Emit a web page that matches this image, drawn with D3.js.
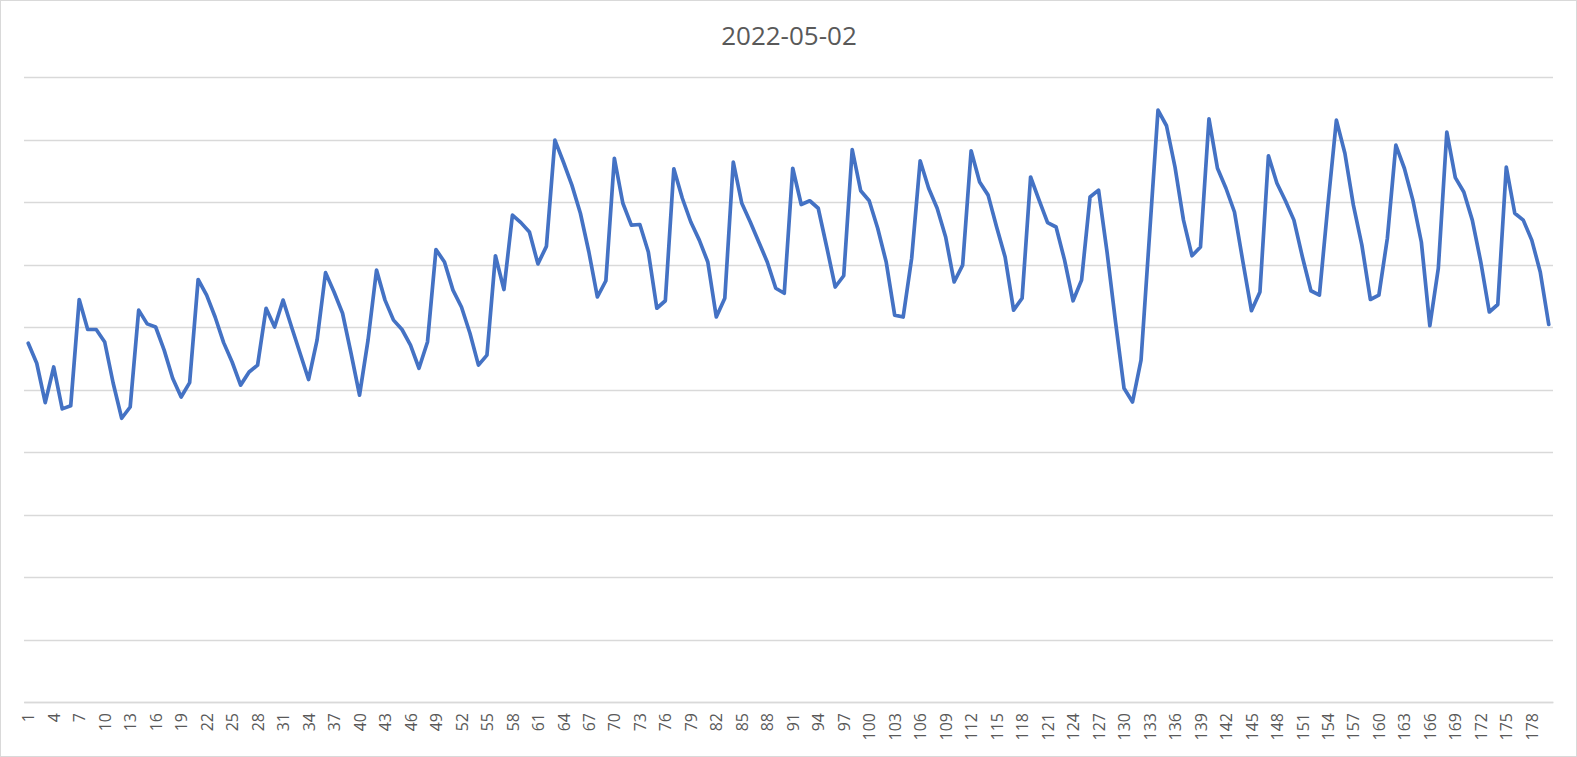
<!DOCTYPE html>
<html>
<head>
<meta charset="utf-8">
<script src="https://cdn.jsdelivr.net/npm/d3@7"></script>
<style>
  html, body { margin: 0; padding: 0; background: #fff; }
  svg { display: block; }
</style>
</head>
<body>
<svg id="chart" width="1577" height="757"></svg>
<script>
const title = "2022-05-02";
const categories = d3.range(1, 181);
const values = [
  57.4, 54.2, 47.9, 53.6, 46.9, 47.4, 64.4, 59.6, 59.6, 57.6,
  51.0, 45.4, 47.2, 62.7, 60.5, 60.0, 56.3, 51.8, 48.8, 51.1,
  67.6, 65.1, 61.6, 57.5, 54.4, 50.7, 52.8, 53.9, 63.0, 60.0,
  64.3, 60.0, 55.8, 51.6, 57.9, 68.7, 65.6, 62.2, 55.8, 49.1,
  57.9, 69.1, 64.3, 61.1, 59.6, 57.1, 53.4, 57.6, 72.4, 70.4,
  65.9, 63.2, 59.0, 53.9, 55.5, 71.4, 66.0, 77.9, 76.7, 75.2,
  70.1, 72.9, 89.9, 86.4, 82.7, 78.2, 72.0, 64.8, 67.4, 87.0,
  79.8, 76.3, 76.4, 72.0, 63.0, 64.2, 85.3, 80.6, 76.8, 73.9,
  70.4, 61.6, 64.6, 86.4, 79.8, 76.8, 73.6, 70.4, 66.2, 65.4,
  85.4, 79.6, 80.2, 79.0, 72.8, 66.4, 68.2, 88.4, 81.8, 80.2,
  75.8, 70.4, 61.9, 61.6, 71.0, 86.6, 82.2, 79.0, 74.4, 67.2,
  69.9, 88.2, 83.2, 81.1, 76.0, 71.2, 62.7, 64.6, 84.0, 80.3,
  76.7, 76.0, 70.7, 64.2, 67.5, 80.8, 81.9, 72.0, 60.8, 50.2,
  48.0, 54.7, 74.7, 94.7, 92.2, 85.6, 77.1, 71.4, 72.8, 93.3,
  85.4, 82.2, 78.4, 70.4, 62.6, 65.6, 87.4, 83.0, 80.2, 77.1,
  71.2, 65.8, 65.1, 79.5, 93.1, 87.8, 79.5, 73.1, 64.4, 65.1,
  74.2, 89.1, 85.4, 80.3, 73.6, 60.2, 69.4, 91.2, 83.9, 81.6,
  77.1, 70.4, 62.4, 63.6, 85.6, 78.2, 77.1, 73.9, 68.8, 60.4
];
const tickLabels = categories.filter((d, i) => i % 3 === 0);
const gridValues = d3.range(0, 101, 10);

const svg = d3.select("#chart");
const W = 1577, H = 757;
const plotLeft = 24, plotRight = 1553, plotTop = 77, plotBottom = 702;

svg.append("rect")
  .attr("x", 0.5).attr("y", 0.5)
  .attr("width", W - 1).attr("height", H - 1)
  .attr("fill", "#fff").attr("stroke", "#D9D9D9").attr("stroke-width", 1);

const x = d3.scalePoint().domain(categories).range([plotLeft, plotRight]).padding(0.5);
const y = d3.scaleLinear().domain([0, 100]).range([plotBottom, plotTop]);

// gridlines
svg.append("g").selectAll("line").data(gridValues).join("line")
  .attr("x1", plotLeft).attr("x2", plotRight)
  .attr("y1", d => Math.round(y(d)) + 0.5).attr("y2", d => Math.round(y(d)) + 0.5)
  .attr("stroke", "#D9D9D9").attr("stroke-width", 1.3);

// x axis
const xAxis = d3.axisBottom(x).tickValues(tickLabels).tickSize(0).tickPadding(0);
const gx = svg.append("g").attr("transform", `translate(0,${plotBottom})`).call(xAxis);
gx.select(".domain").attr("stroke", "#D9D9D9").attr("stroke-width", 1.3);
gx.selectAll(".tick text")
  .attr("transform", "translate(0,11) rotate(-90)")
  .attr("x", 0).attr("y", 0).attr("dy", "0.35em")
  .attr("text-anchor", "end")
  .attr("fill", "#595959")
  .style("font-family", "'Open Sans', sans-serif")
  .style("font-size", "16px");

// line
const line = d3.line().x((d, i) => x(categories[i])).y(d => y(d));
svg.append("path").datum(values)
  .attr("d", line)
  .attr("fill", "none")
  .attr("stroke", "#4472C4")
  .attr("stroke-width", 3.7)
  .attr("stroke-linejoin", "round")
  .attr("stroke-linecap", "round");

// title
svg.append("text")
  .attr("x", 789).attr("y", 45)
  .attr("text-anchor", "middle")
  .attr("fill", "#595959")
  .style("font-family", "'Open Sans', sans-serif")
  .style("font-size", "26px")
  .text(title);
</script>
</body>
</html>
